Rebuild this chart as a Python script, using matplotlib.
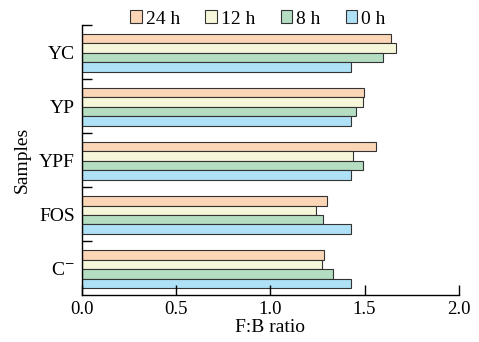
import matplotlib.pyplot as plt
import numpy as np

plt.rcParams['font.family'] = 'Liberation Serif'
plt.rcParams['mathtext.fontset'] = 'stix'

samples = ['C$^{-}$', 'FOS', 'YPF', 'YP', 'YC']
times = ['24 h', '12 h', '8 h', '0 h']
ratio_24h = [1.287, 1.301, 1.558, 1.499, 1.642]
ratio_12h = [1.276, 1.240, 1.441, 1.494, 1.664]
ratio_8h = [1.333, 1.282, 1.492, 1.457, 1.600]
ratio_0h = [1.430, 1.430, 1.430, 1.430, 1.430]
colors = ['#FBD6B6', '#F6F7DA', '#B4DDC2', '#AEE0F6']

fig = plt.figure(figsize=(4.79, 3.42), dpi=100)
ax = fig.add_axes([0.1706, 0.1365, 0.958 - 0.1706, 0.927 - 0.1365])

y = np.arange(len(samples))
h = 0.175
offsets = [1.5 * h, 0.5 * h, -0.5 * h, -1.5 * h]
series = [ratio_24h, ratio_12h, ratio_8h, ratio_0h]
handles = []
for vals, off, c, lab in zip(series, offsets, colors, times):
    b = ax.barh(y + off - 0.015, vals, height=h, color=c, edgecolor='#333333',
                linewidth=0.8, label=lab)
    handles.append(b)

ax.set_xlim(0, 2.0)
ax.set_ylim(-0.5, 4.5)
ax.set_xticks([0.0, 0.5, 1.0, 1.5, 2.0])
ax.set_xticklabels(['0.0', '0.5', '1.0', '1.5', '2.0'])
ax.set_yticks(y)
ax.set_yticklabels(samples)
ax.set_yticks(np.arange(0.5, 5, 1), minor=True)
ax.tick_params(axis='y', which='major', length=0, labelsize=14, pad=5)
ax.tick_params(axis='y', which='minor', direction='in', length=7, width=1)
ax.tick_params(axis='x', direction='in', length=7, width=1, labelsize=13.5, pad=4)
for s in ['top', 'right']:
    ax.spines[s].set_visible(False)
for s in ['left', 'bottom']:
    ax.spines[s].set_linewidth(1)

ax.set_xlabel('F:B ratio', fontsize=14, labelpad=1)
ax.set_ylabel('Samples', fontsize=14, labelpad=6)

fig.legend(handles=handles, labels=times, loc='center', ncol=4,
           bbox_to_anchor=(258 / 479, 1 - 19 / 342), frameon=False,
           fontsize=14, handlelength=0.6, handleheight=0.6,
           handletextpad=0.2, columnspacing=1.3, borderpad=0)

fig.savefig('out.png', dpi=100)
